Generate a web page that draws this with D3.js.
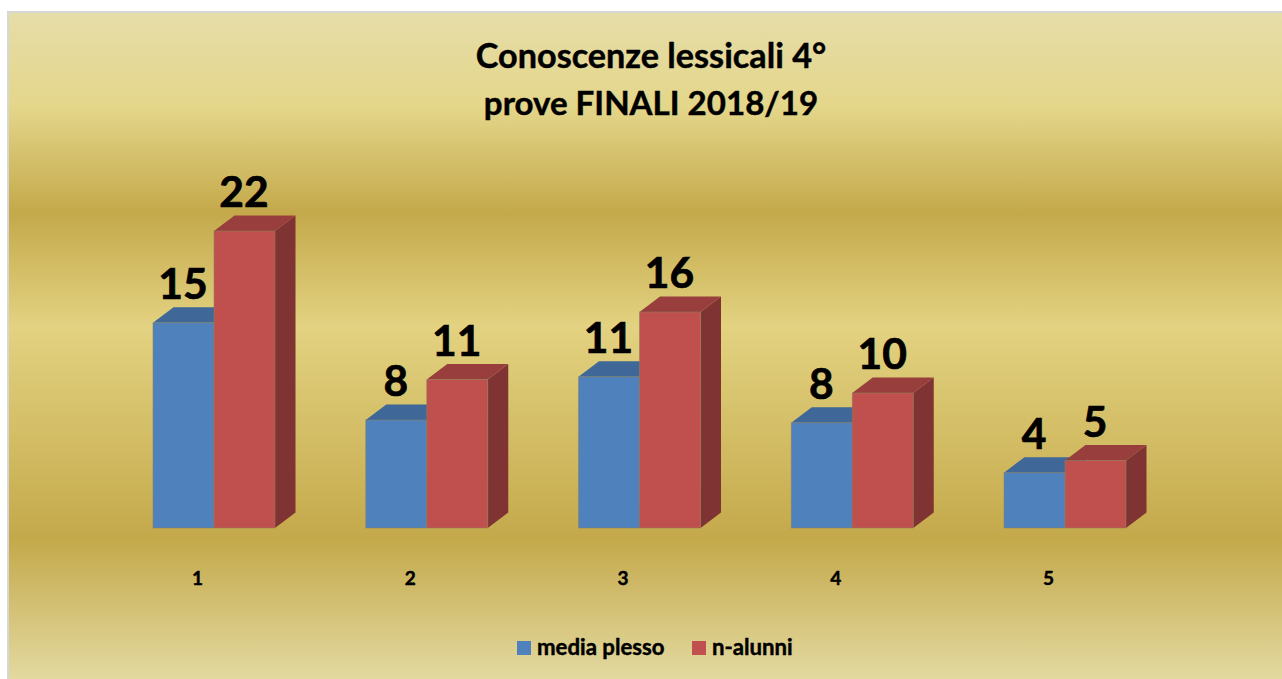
<!DOCTYPE html>
<html>
<head>
<meta charset="utf-8">
<script src="https://cdnjs.cloudflare.com/ajax/libs/d3/7.8.5/d3.min.js"></script>
<style>
  html, body { margin: 0; padding: 0; background: #fff; overflow: hidden; }
  text { font-family: Lato, "Open Sans", sans-serif; font-weight: 700; fill: #000; stroke: #000; stroke-width: 0.45px; }
</style>
</head>
<body>
<script>
var categories = ['1', '2', '3', '4', '5'];
var seriesNames = ['media plesso', 'n-alunni'];
var mediaPlesso = [15.2, 8, 11.2, 7.8, 4.1];
var nAlunni = [22, 11, 16, 10, 5];
var titleLines = ['Conoscenze lessicali 4°', 'prove FINALI 2018/19'];

var width = 1282, height = 679;
var baseline = 528, depthX = 20.5, depthY = 15.5;

var svg = d3.select('body').append('svg')
  .attr('width', width)
  .attr('height', height);

var defs = svg.append('defs');
var grad = defs.append('linearGradient')
  .attr('id', 'bg')
  .attr('x1', 0).attr('y1', 0)
  .attr('x2', 0).attr('y2', 1);
[[0, '#e6dda9'], [0.14, '#e4d68a'], [0.30, '#c4a94b'], [0.47, '#e3d281'],
 [0.79, '#c4a94b'], [1, '#e3d9a0']].forEach(function(s) {
  grad.append('stop').attr('offset', s[0]).attr('stop-color', s[1]);
});

svg.append('rect')
  .attr('x', 7).attr('y', 11)
  .attr('width', width - 7).attr('height', height - 11)
  .attr('fill', '#d6d6d4');
svg.append('rect')
  .attr('x', 9).attr('y', 13)
  .attr('width', width - 9).attr('height', height - 13)
  .attr('fill', 'url(#bg)');

// group centres, then the two bars inside each group
var x = d3.scalePoint().domain(categories).range([214, 1065]);
var xBar = d3.scaleBand().domain(seriesNames).range([-61, 61]);
var y = d3.scaleLinear().domain([0, 22]).range([baseline, 231]);
var fmt = d3.format('.0f');

var colors = {
  'media plesso': { front: '#4f81bd', top: '#3f6797', side: '#2f4d71' },
  'n-alunni': { front: '#c0504d', top: '#983f3d', side: '#7f3332' }
};

function pts(list) {
  return list.map(function(p) { return p.join(','); }).join(' ');
}

var bars = [];
categories.forEach(function(c, i) {
  bars.push({ cat: c, name: seriesNames[0], value: mediaPlesso[i] });
  bars.push({ cat: c, name: seriesNames[1], value: nAlunni[i] });
});

var bar = svg.selectAll('g.bar')
  .data(bars)
  .enter().append('g')
  .attr('class', 'bar');

bar.each(function(d) {
  var g = d3.select(this);
  var x0 = x(d.cat) + xBar(d.name);
  var x1 = x0 + xBar.bandwidth();
  var t = y(d.value);
  var c = colors[d.name];

  g.append('polygon')
    .attr('points', pts([[x1, t], [x1 + depthX, t - depthY], [x1 + depthX, baseline - depthY], [x1, baseline]]))
    .attr('fill', c.side);
  g.append('polygon')
    .attr('points', pts([[x0, t], [x0 + depthX, t - depthY], [x1 + depthX, t - depthY], [x1, t]]))
    .attr('fill', c.top);
  g.append('rect')
    .attr('x', x0).attr('y', t)
    .attr('width', x1 - x0).attr('height', baseline - t)
    .attr('fill', c.front)
    .attr('stroke', '#8a7f5c')
    .attr('stroke-opacity', 0.55)
    .attr('stroke-width', 1);
});

// value labels, drawn afterwards so bars never cover them
svg.selectAll('text.value')
  .data(bars)
  .enter().append('text')
  .attr('class', 'value')
  .attr('x', function(d) { return x(d.cat) + xBar(d.name) + xBar.bandwidth() / 2 - 0.5; })
  .attr('y', function(d) { return y(d.value) - 24; })
  .attr('text-anchor', 'middle')
  .attr('font-size', 42.5)
  .style('stroke-width', '0.7px')
  .text(function(d) { return fmt(d.value); });

// axis labels sit left of the group centre
svg.selectAll('text.cat')
  .data(categories)
  .enter().append('text')
  .attr('class', 'cat')
  .attr('x', function(d) { return x(d) - 16.5; })
  .attr('y', 584.5)
  .attr('text-anchor', 'middle')
  .attr('font-size', 19)
  .text(function(d) { return d; });

svg.selectAll('text.title')
  .data(titleLines)
  .enter().append('text')
  .attr('class', 'title')
  .attr('x', 651)
  .attr('y', function(d, i) { return 68 + i * 46.5; })
  .attr('text-anchor', 'middle')
  .attr('font-size', function(d, i) { return i ? 33.1 : 34.2; })
  .text(function(d) { return d; });

var legendX = [517, 692];
seriesNames.forEach(function(name, i) {
  svg.append('rect')
    .attr('x', legendX[i]).attr('y', 641)
    .attr('width', 14).attr('height', 14)
    .attr('fill', colors[name].front);
  svg.append('text')
    .attr('x', legendX[i] + 20).attr('y', 655)
    .attr('font-size', 22.2)
    .text(name);
});
</script>
</body>
</html>
